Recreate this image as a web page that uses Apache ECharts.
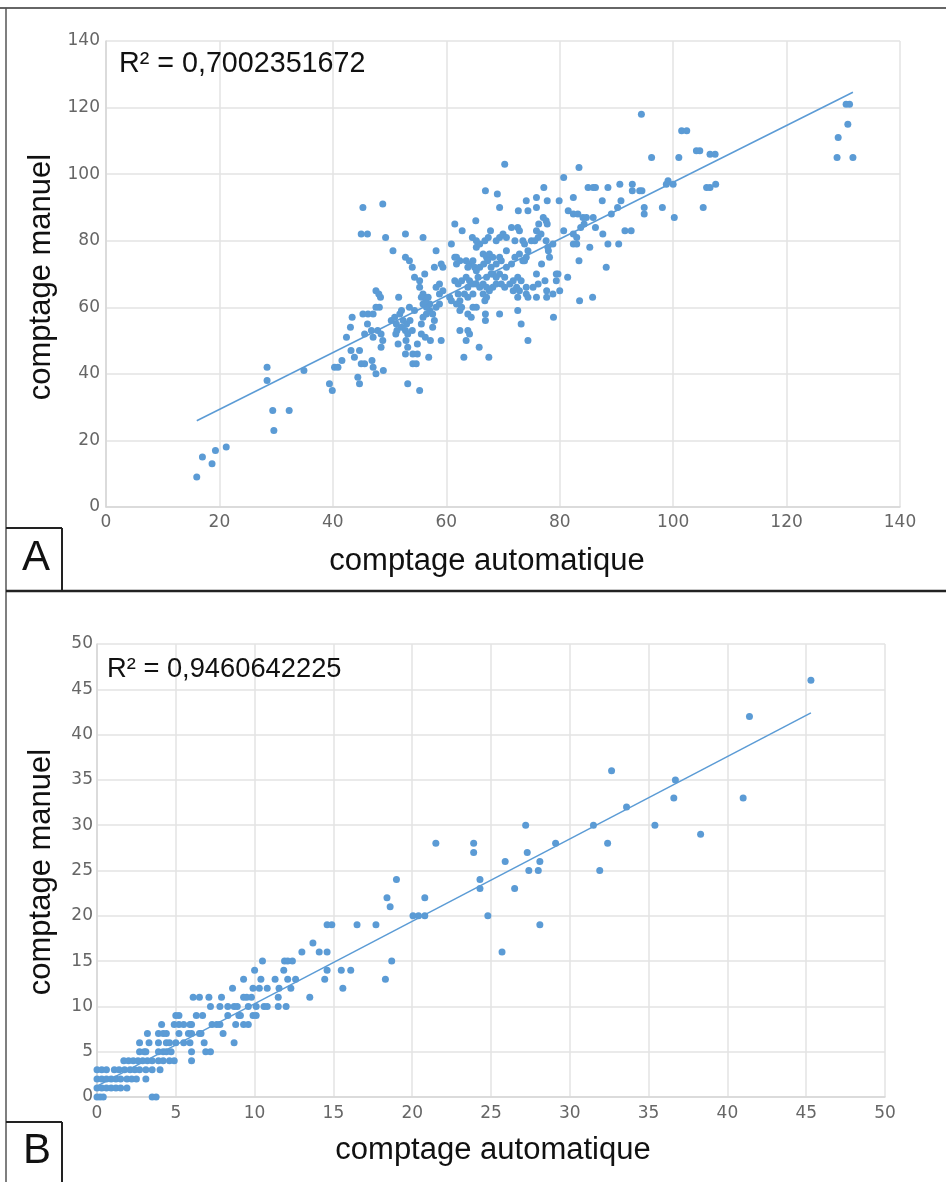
<!DOCTYPE html>
<html><head><meta charset="utf-8">
<script src="https://cdn.jsdelivr.net/npm/echarts@6/dist/echarts.min.js"></script>
<style>html,body{margin:0;padding:0;background:#fff}#c{width:946px;height:1182px}</style>
</head><body><div id="c"></div>
<script>
// ---- Data ----
const xTitle = 'comptage automatique';
const yTitle = 'comptage manuel';
const r2A = 'R² = 0,7002351672';
const r2B = 'R² = 0,9460642225';
const axisA = {min: 0, max: 140, interval: 20};
const axisB = {min: 0, max: 50, interval: 5};

const pointsA = [
[16,9],[17,15],[18.7,13],[19.3,17],[21.2,18],[28.4,42],[28.4,38],[29.4,29],[29.6,23],[32.3,29],[34.9,41],
[70.3,103],[66.9,95],[69.0,94],[69.4,90],[74.1,92],[72.7,89],[74.4,89],
[45.3,90],[48.8,91],[45.0,82],[46.1,82],[49.3,81],[52.8,82],[55.9,81],[61.5,85],[62.8,83],[65.2,86],
[50.6,77],[52.8,75],[53.5,74],[54.0,72],[58.2,77],[57.9,72],[59.1,73],[59.4,72],[60.9,79],[61.5,75],[61.8,73],
[54.4,69],[55.3,68],[56.2,70],[55.3,66],[55.9,64],[56.2,63],[58.2,66],[58.8,67],[51.6,63],[47.6,65],[48.1,64],[48.4,63],
[48.2,60],[47.6,60],[45.3,58],[46.2,58],[47.1,58],[43.4,57],[43.1,54],[46.1,55],[42.4,51],[45.6,52],[46.8,53],[47.9,53],
[48.5,52],[47.1,51],[48.8,50],[48.5,48],[43.2,47],[44.7,47],[43.8,45],[45.0,43],[45.6,43],[46.9,44],[47.1,42],[47.6,40],
[48.9,41],[40.3,42],[40.9,42],[41.6,44],[44.4,39],[44.7,37],[39.4,37],[39.9,35],[53.2,37],[55.3,35],
[50.3,56],[50.9,57],[51.8,58],[52.1,59],[52.4,56],[51.2,55],[52.1,54],[53.0,55],[53.6,56],[53.5,60],[54.4,59],[51.3,53],
[51.1,52],[52.8,53],[53.2,52],[54.0,53],[51.5,49],[52.9,50],[53.2,48],[52.8,46],[54.1,46],[54.9,46],[54.1,43],[54.7,43],
[54.9,49],[55.6,55],[55.9,57],[56.5,58],[57.1,59],[55.6,52],[56.3,51],[57.2,50],[56.9,45],[57.6,54],[57.9,56],[58.2,60],
[58.8,61],[59.1,50],[57.6,58],[57.1,61],[56.5,60],[55.6,63],[55.9,61],[56.4,62],[56.8,63],
[58.8,64],[59.4,65],[60.6,63],[60.9,62],[61.5,68],[62.1,67],[62.7,68],[62.1,64],[62.4,62],[62.7,60],[63.5,69],[64.1,68],
[63.8,66],[64.7,67],[63.2,64],[63.8,63],[64.7,64],[62.4,53],[63.8,53],[64.1,52],[63.5,50],[63.1,45],[63.8,58],[64.4,57],
[64.7,60],[65.3,60],[65.8,48],[67.5,45],[66.9,58],[66.9,56],[69.4,58],[72.6,59],[73.2,55],[74.4,50],
[61.8,75],[62.4,74],[63.5,74],[64.1,73],[64.7,74],[63.8,72],[65.0,72],[65.3,71],[65.3,78],[65.9,79],[66.8,80],[67.4,81],
[67.8,83],[64.6,81],[65.3,80],[68.8,80],[69.4,81],[70.0,82],[70.6,81],[71.5,84],[72.6,84],[72.9,83],[72.1,80],[73.5,80],
[66.5,76],[67.1,75],[67.6,76],[68.2,75],[69.4,75],[70.6,77],[65.9,72],[66.6,73],[67.3,74],[67.9,72],[68.2,70],[68.8,73],
[69.7,74],[70.6,72],[71.5,73],[72.1,75],[72.9,76],[73.5,74],[74.1,75],
[65.3,67],[65.9,66],[66.5,67],[67.1,66],[67.6,65],[68.2,66],[68.8,67],[65.6,69],[67.1,69],[67.9,70],[68.8,69],[69.4,70],
[70.3,69],[66.5,64],[67.1,63],[66.8,62],[69.7,67],[70.3,66],[71.2,67],[71.8,68],[72.6,69],[73.2,68],[71.8,65],[72.4,66],
[72.9,65],[74.1,66],[72.6,63],[74.1,64],[74.4,63],[62.4,59],[61.8,61],
[94.4,118],[101.5,113],[102.4,113],[104.1,107],[104.7,107],[106.5,106],[107.4,106],[96.2,105],[101.0,105],[83.4,102],
[80.7,99],[77.2,96],[85.0,96],[85.9,96],[86.3,96],[88.5,96],[90.6,97],[92.8,97],[92.8,95],[94.1,95],[94.5,95],[99.1,98],
[98.8,97],[100,97],[105.9,96],[106.5,96],[107.5,97],[105.3,90],[100.2,87],[98.1,90],[94.9,90],[94.9,88],[75.9,93],
[77.8,92],[79.9,92],[82.4,93],[75.9,90],[87.5,92],[90.8,92],[90.2,90],[89.1,88],[81.5,89],[82.4,88],[83.2,88],[84.1,87],
[84.7,87],[85.9,87],[77.1,87],[77.6,86],[76.3,85],[77.8,85],[83.7,84],[84.3,85],[86.3,84],[80.7,83],[82.4,82],[87.6,82],
[91.5,83],[92.6,83],[83.0,81],[75.9,83],[76.7,82],[76.2,81],[75.0,80],[75.6,80],[77.6,80],[78.8,79],[77.9,78],[82.4,79],
[83.0,79],[85.3,78],[88.5,79],[90.4,79],[73.8,79],[74.4,77],[73.8,74],[78.0,77],[78.2,75],[76.8,73],[83.4,74],[88.2,72],
[75.9,70],[79.4,70],[79.7,70],[81.4,69],[77.4,68],[79.4,68],[76.2,67],[75.3,66],[77.7,65],[78.8,64],[80,65],[75.9,63],
[77.7,63],[83.5,62],[85.8,63],[78.9,57],
[130.5,121],[131.1,121],[130.8,115],[129.1,111],[128.9,105],[131.7,105]
];
const trendA = [[16,25.9],[131.7,124.6]];

const pointsB = [
[45.3,46],[41.4,42],[32.65,36],[36.7,35],[36.6,33],[41.0,33],[33.6,32],[35.4,30],[38.3,29],[27.2,30],[31.5,30],[29.1,28],
[32.4,28],[23.9,28],[23.9,27],[27.3,27],[25.9,26],[28.1,26],[27.4,25],[28.0,25],[31.9,25],[24.3,24],[24.3,23],[26.5,23],
[21.5,28],[19.0,24],[18.4,22],[18.6,21],[20.8,22],[20.05,20],[20.4,20],[20.8,20],[24.8,20],[14.6,19],[14.9,19],[16.5,19],
[17.7,19],[28.1,19],[13.7,17],[13.0,16],[14.1,16],[14.6,16],[25.7,16],[11.9,15],[12.1,15],[12.4,15],[18.7,15],[11.85,14],
[14.6,14],[15.5,14],[16.1,14],[12.1,13],[12.6,13],[14.45,13],[18.3,13],[11.55,12],[12.3,12],[15.6,12],[13.5,11],
[10.5,15],[10.0,14],[9.3,13],[10.4,13],[11.3,13],[8.6,12],[9.9,12],[10.3,12],[10.8,12],[6.1,11],[6.5,11],[7.1,11],[7.9,11],
[9.3,11],[9.5,11],[9.8,11],[11.5,11],[7.2,10],[7.8,10],[8.3,10],[8.7,10],[8.9,10],[9.6,10],[10.1,10],[10.6,10],[10.8,10],
[11.5,10],[12.0,10],[5.0,9],[5.2,9],[6.3,9],[6.7,9],[8.3,9],[9.0,9],[9.1,9],[9.9,9],[10.1,9],[4.9,8],[5.2,8],[5.5,8],[5.9,8],
[6.0,8],[4.1,8],[7.3,8],[7.6,8],[7.8,8],[8.8,8],[9.3,8],[9.6,8],[3.2,7],[3.9,7],[4.2,7],[4.4,7],[5.2,7],[5.8,7],[6.0,7],
[6.5,7],[6.6,7],[8.0,7],[2.7,6],[3.3,6],[3.9,6],[4.4,6],[4.6,6],[5.0,6],[5.5,6],[5.9,6],[6.8,6],[8.7,6],[2.7,5],[3.0,5],
[3.1,5],[3.9,5],[4.2,5],[4.4,5],[4.7,5],[6.0,5],[6.9,5],[7.2,5],
[1.7,4],[2.0,4],[2.3,4],[2.6,4],[2.9,4],[3.2,4],[3.5,4],[3.9,4],[4.2,4],[4.6,4],[4.9,4],[6.0,4],
[0,3],[0.3,3],[0.6,3],[1.1,3],[1.4,3],[1.75,3],[2.1,3],[2.4,3],[2.7,3],[3.1,3],[3.5,3],[4.0,3],
[0,2],[0.3,2],[0.6,2],[0.9,2],[1.2,2],[1.5,2],[1.9,2],[2.2,2],[2.5,2],[3.1,2],
[0,1],[0.3,1],[0.6,1],[0.9,1],[1.2,1],[1.5,1],[1.9,1],
[0,0],[0.2,0],[0.4,0],[3.5,0],[3.75,0]
];
const trendB = [[0,1.2],[45.3,42.4]];

// ---- Style ----
const BLUE = '#5b9bd5';
const GRID_C = '#e3e3e3';
const AXIS_C = '#d6d6d6';
const TICK_FONT = 'DejaVu Sans';
const TITLE_FONT = '"Liberation Sans", Arial, sans-serif';

function mkAxis(idx, ax, margin) {
  return {type:'value', gridIndex: idx, min: ax.min, max: ax.max, interval: ax.interval,
    axisLine:{show:true, lineStyle:{color:AXIS_C, width:1.5}}, axisTick:{show:false},
    splitLine:{show:true, lineStyle:{color:GRID_C, width:1.5}},
    axisLabel:{color:'#666', fontFamily:TICK_FONT, fontSize:17, margin: margin, showMinLabel:true, showMaxLabel:true}};
}
function txt(x, y, text, size, align, opts) {
  return Object.assign({type:'text', x:x, y:y, silent:true, z:10,
    style:{text:text, font: size + 'px ' + TITLE_FONT, fill:'#111', align:align||'center', verticalAlign:'middle'}}, opts||{});
}
function ln(x1,y1,x2,y2,w,c){
  return {type:'line', silent:true, shape:{x1:x1,y1:y1,x2:x2,y2:y2}, style:{stroke:c||'#222', lineWidth:w||2}};
}

const chart = echarts.init(document.getElementById('c'), null, {renderer:'canvas'});
chart.setOption({
  animation:false,
  backgroundColor:'#fff',
  grid:[
    {left:106, top:41, width:794, height:466},
    {left:97, top:644, width:788, height:453}
  ],
  xAxis:[mkAxis(0, axisA, 7), mkAxis(1, axisB, 8)],
  yAxis:[mkAxis(0, axisA, 6), mkAxis(1, axisB, 4)],
  series:[
    {type:'scatter', xAxisIndex:0, yAxisIndex:0, data:pointsA, symbolSize:7, itemStyle:{color:BLUE, opacity:1}, z:3},
    {type:'line', xAxisIndex:0, yAxisIndex:0, data:trendA, showSymbol:false, symbol:'none', lineStyle:{color:BLUE, width:1.5}, z:4},
    {type:'scatter', xAxisIndex:1, yAxisIndex:1, data:pointsB, symbolSize:7, itemStyle:{color:BLUE, opacity:1}, z:3},
    {type:'line', xAxisIndex:1, yAxisIndex:1, data:trendB, showSymbol:false, symbol:'none', lineStyle:{color:BLUE, width:1.5}, z:4}
  ],
  graphic:[
    ln(0,8,946,8,1.5,'#333'),
    ln(6,8,6,1182,1.5,'#555'),
    ln(6,591,946,591,2.5,'#222'),
    ln(6,528,62,528,2,'#222'),
    ln(62,528,62,591,2,'#222'),
    ln(6,1122,62,1122,2,'#222'),
    ln(62,1122,62,1182,2,'#222'),
    txt(36,558,'A',42),
    txt(37,1151,'B',42),
    txt(119,64,r2A,28.7,'left'),
    txt(107,669,r2B,27.3,'left'),
    txt(487,561,xTitle,31),
    txt(493,1150,xTitle,31),
    txt(41,277,yTitle,31,'center',{rotation:Math.PI/2}),
    txt(41,872,yTitle,31,'center',{rotation:Math.PI/2})
  ]
});
</script></body></html>
